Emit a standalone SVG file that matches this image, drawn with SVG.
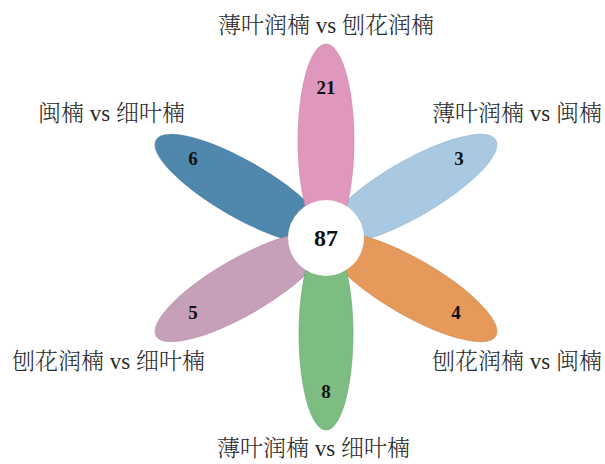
<svg xmlns="http://www.w3.org/2000/svg" width="605" height="464" viewBox="0 0 605 464">
<style>
.petal{stroke-width:1;stroke-opacity:0.6}
.num{font-family:"Liberation Serif","Times New Roman",serif;font-weight:bold;font-size:19px;text-anchor:middle;fill:#111}
.lbl{font-family:"Noto Serif CJK SC","Noto Sans CJK SC",sans-serif;font-weight:300;font-size:23px;fill:#2a2a2a}
.vs{font-family:"Liberation Serif","Times New Roman",serif;font-weight:normal}
</style>
<rect width="605" height="464" fill="#ffffff"/>
<g id="petal-topleft"><ellipse class="petal" cx="0" cy="0" rx="98" ry="28" fill="#5087ac" stroke="#3f7297" transform="translate(326 238) rotate(-150) translate(98 0)"/></g>
<g id="petal-topright"><ellipse class="petal" cx="0" cy="0" rx="98" ry="28" fill="#a9c9e3" stroke="#8fb3d2" transform="translate(326 238) rotate(-30) translate(98 0)"/></g>
<g id="petal-bottomleft"><ellipse class="petal" cx="0" cy="0" rx="98" ry="28" fill="#c5a0b8" stroke="#b08aa3" transform="translate(326 238) rotate(150) translate(98 0)"/></g>
<g id="petal-bottomright"><ellipse class="petal" cx="0" cy="0" rx="98" ry="28" fill="#e59a5b" stroke="#cf8447" transform="translate(326 238) rotate(30) translate(98 0)"/></g>
<g id="petal-bottom"><ellipse class="petal" cx="0" cy="0" rx="96" ry="27" fill="#7dbd82" stroke="#66a86c" transform="translate(326 238) rotate(90) translate(96 0)"/></g>
<g id="petal-top"><ellipse class="petal" cx="0" cy="0" rx="97" ry="28" fill="#df97be" stroke="#c97fa7" transform="translate(326 238) rotate(-90) translate(97 0)"/></g>
<g id="center"><circle cx="326" cy="238" r="38" fill="#ffffff"/><text class="num" x="326" y="246" style="font-size:24px">87</text></g>
<g id="numbers">
<text class="num" x="326" y="94">21</text>
<text class="num" x="193" y="165">6</text>
<text class="num" x="459" y="165">3</text>
<text class="num" x="193" y="319">5</text>
<text class="num" x="456" y="319">4</text>
<text class="num" x="326" y="398">8</text>
</g>
<g id="labels">
<text class="lbl" x="218" y="33">薄叶润楠<tspan class="vs"> vs </tspan>刨花润楠</text>
<text class="lbl" x="38" y="121">闽楠<tspan class="vs"> vs </tspan>细叶楠</text>
<text class="lbl" x="432" y="121">薄叶润楠<tspan class="vs"> vs </tspan>闽楠</text>
<text class="lbl" x="12" y="369">刨花润楠<tspan class="vs"> vs </tspan>细叶楠</text>
<text class="lbl" x="432" y="369">刨花润楠<tspan class="vs"> vs </tspan>闽楠</text>
<text class="lbl" x="217" y="456">薄叶润楠<tspan class="vs"> vs </tspan>细叶楠</text>
</g>
</svg>
